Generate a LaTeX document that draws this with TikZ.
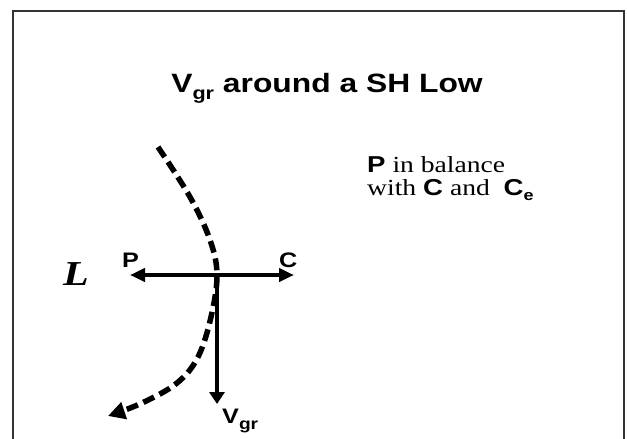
\documentclass[tikz,border=0pt]{standalone}
\usepackage{fontspec}
\setmainfont{Liberation Serif}
\setsansfont{Liberation Sans}
\usetikzlibrary{arrows.meta}
\newcommand{\wide}[1]{\scalebox{1.2}[1]{#1}}
\tikzset{
  frame/.style={draw=black!80, line width=2pt},
  force/.style={line width=4pt},
  hhead/.style={-{Triangle[length=15pt,width=13pt]}},
  vhead/.style={-{Triangle[length=12pt,width=15pt]}},
  trajectory/.style={line width=5.5pt, dash pattern=on 12pt off 6pt, -{Triangle[length=17pt,width=17pt]}},
  lab/.style={font=\fontsize{21}{21}\selectfont\sffamily\bfseries, inner sep=0pt, anchor=base west},
  txt/.style={font=\fontsize{23}{23}\selectfont, inner sep=0pt, anchor=base west}
}
\begin{document}
\begin{tikzpicture}[x=1pt,y=-1pt]
\useasboundingbox (0,0) rectangle (627,439);
\draw[frame] (13,439) -- (13,11) -- (624,11) -- (624,439);
% title
\node[inner sep=0pt, anchor=base, font=\fontsize{26.5}{26.5}\selectfont\sffamily\bfseries] (title) at (327,92)
  {\wide{V\raisebox{-0.28em}{\fontsize{18}{18}\selectfont gr} around a SH Low}};
% side text
\node[txt] (t1) at (367,172) {\wide{{\sffamily\bfseries P} in balance}};
\node[txt] (t2) at (367,195) {\wide{with {\sffamily\bfseries C} and \ {\sffamily\bfseries C\raisebox{-0.25em}{\fontsize{15}{15}\selectfont e}}}};
% L
\node[inner sep=0pt, anchor=base west, font=\fontsize{35}{35}\selectfont\bfseries\itshape] (L) at (63,285) {\wide{L}};
% points
\coordinate (O) at (217,275);
\coordinate (tipP) at (130,275);
\coordinate (tipC) at (294,275);
\coordinate (tipV) at (217,404);
% dashed trajectory
\draw[trajectory] plot[smooth, tension=0.6] coordinates {(158,147) (190,197) (210,240) (217,275) (211,317) (198,357) (177,383) (142,403) (108,416)};
% forces
\draw[force,hhead] (O) -- (tipP);
\draw[force,hhead] (O) -- (tipC);
\draw[force,vhead] (O) -- (tipV);
% labels
\node[lab] (P) at (122,267) {\wide{P}};
\node[lab] (C) at (279,267) {\wide{C}};
\node[lab] (V) at (222,423) {\wide{V\raisebox{-0.3em}{\fontsize{16}{16}\selectfont gr}}};
\end{tikzpicture}
\end{document}
